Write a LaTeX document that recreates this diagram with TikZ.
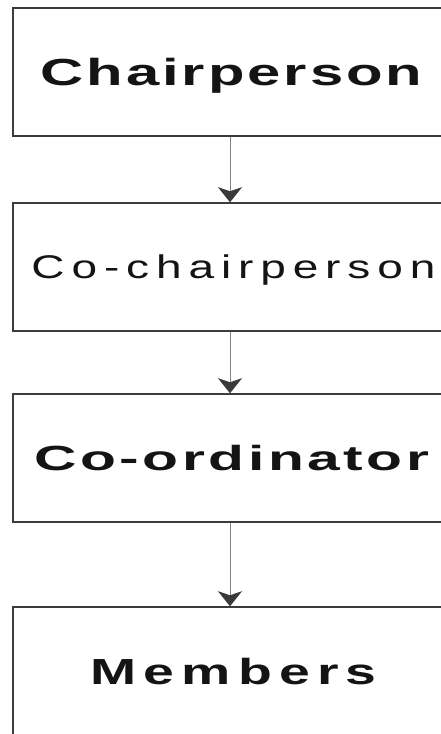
\documentclass[tikz,border=0pt]{standalone}
\usepackage{fontspec}
\setmainfont{Liberation Sans}
\usetikzlibrary{arrows.meta}
% #1 target width, #2 font size, #3 letter space, #4 trailing kern, #5 weight, #6 text
\newcommand{\boxlabel}[6]{\resizebox{#1pt}{\height}{\fontsize{#2}{#2}\selectfont\addfontfeatures{LetterSpace=#3}#5#6\kern-#4em}}
\definecolor{framegray}{HTML}{3C3C3C}
\definecolor{shaftgray}{HTML}{858585}
\definecolor{headgray}{HTML}{3A3A3A}
\tikzset{
  rolebox/.style={draw=framegray, line width=1.5pt, fill=white, minimum width=434pt, minimum height=128pt, inner sep=0pt, text=black!92, text depth=0pt},
  linkarrow/.style={draw=shaftgray, line width=1pt, -{Stealth[width=24pt,length=15pt,inset=4pt,color=headgray]}}
}
\begin{document}
\begin{tikzpicture}[x=1pt,y=-1pt]
\useasboundingbox[fill=white] (0,0) rectangle (441,734);
\clip (0,0) rectangle (441,734);
\node[rolebox, text height=27pt] (b1) at (230,72) {\boxlabel{379}{37.7}{5}{0.05}{\bfseries}{Chairperson}};
\node[rolebox, text height=23.5pt] (b2) at (230,267) {\boxlabel{397}{32.8}{15}{0.15}{}{Co-chairperson}};
\node[rolebox, text height=25pt] (b3) at (230,458) {\boxlabel{391}{34.9}{6}{0.06}{\bfseries}{Co-ordinator}};
\node[rolebox, text height=26pt] (b4) at (230,671) {\boxlabel{279}{36.3}{13}{0.13}{\bfseries}{Members}};
\draw[linkarrow] (b1.south) -- (b2.north);
\draw[linkarrow] (b2.south) -- (b3.north);
\draw[linkarrow] (b3.south) -- (b4.north);
\end{tikzpicture}
\end{document}
